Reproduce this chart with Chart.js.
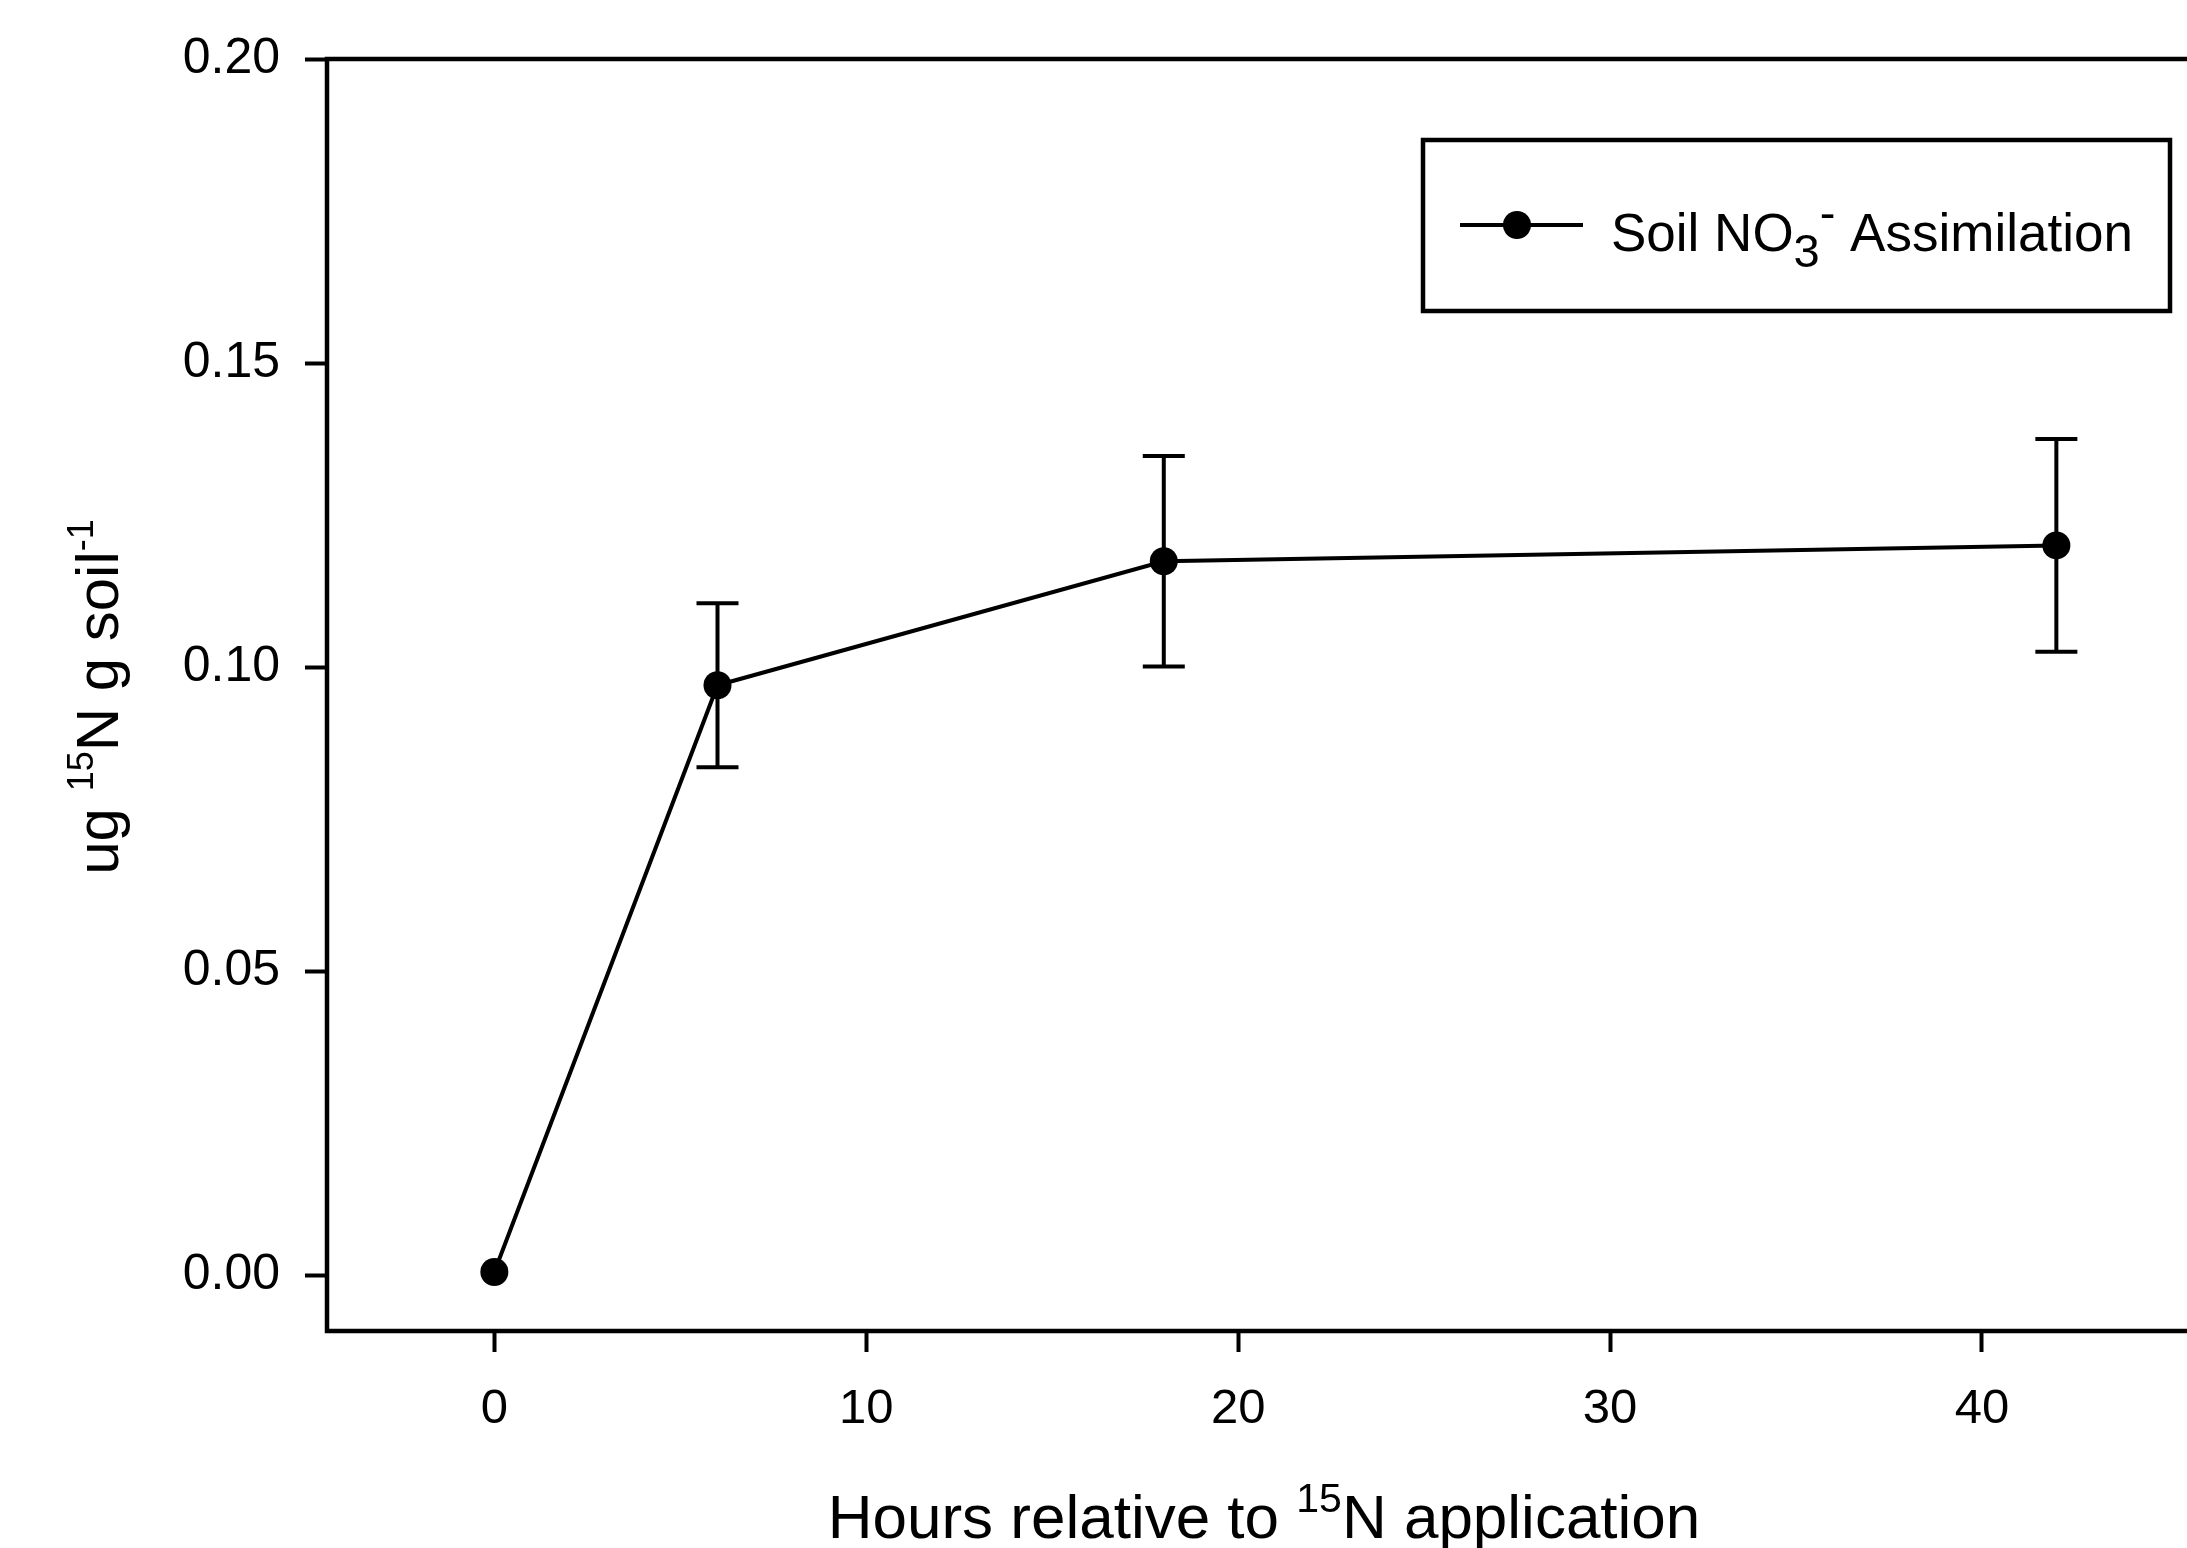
<!DOCTYPE html>
<html>
<head>
<meta charset="utf-8">
<script src="https://cdn.jsdelivr.net/npm/chart.js@4.4.1/dist/chart.umd.min.js"></script>
<style>
  html, body { margin: 0; padding: 0; background: #fff; overflow: hidden; }
  #wrap { width: 2240px; height: 1548px; }
</style>
</head>
<body>
<div id="wrap"><canvas id="nChart" width="2240" height="1548"></canvas></div>
<script>
// values
const hours = [0, 6, 18, 42];
const assimilation = [0.0005, 0.097, 0.1174, 0.1200];
const stdErr = [0, 0.0135, 0.0173, 0.0175];
const xTicks = [0, 10, 20, 30, 40];
const yTicks = [0.00, 0.05, 0.10, 0.15, 0.20];

const FONT = "'Liberation Sans', Arial, sans-serif";

// draw a run of text pieces, some raised or lowered
function richText(ctx, parts, x, y, size, align, small) {
  small = small || 0.62;
  const fontOf = (p) => (p.sup || p.sub ? Math.round(size * small) : size) + "px " + FONT;
  const widths = parts.map((p) => {
    ctx.font = fontOf(p);
    return ctx.measureText(p.t).width;
  });
  const total = widths.reduce((a, b) => a + b, 0);
  let cx = align === "center" ? x - total / 2 : x;
  ctx.textAlign = "left";
  ctx.textBaseline = "alphabetic";
  parts.forEach((p, i) => {
    ctx.font = fontOf(p);
    let dy = 0;
    if (p.sup) dy = -size * 0.42;
    if (p.sub) dy = size * 0.3;
    ctx.fillText(p.t, cx, y + dy);
    cx += widths[i];
  });
}

const sigmaPlot = {
  id: "sigmaPlot",
  beforeDatasetsDraw(chart) {
    const { ctx, scales: { x, y } } = chart;
    ctx.save();
    ctx.strokeStyle = "#000";
    ctx.lineWidth = 4;
    hours.forEach((h, i) => {
      if (!stdErr[i]) return;
      const px = x.getPixelForValue(h);
      const top = y.getPixelForValue(assimilation[i] + stdErr[i]);
      const bot = y.getPixelForValue(assimilation[i] - stdErr[i]);
      ctx.beginPath();
      ctx.moveTo(px, top); ctx.lineTo(px, bot);
      ctx.moveTo(px - 21, top); ctx.lineTo(px + 21, top);
      ctx.moveTo(px - 21, bot); ctx.lineTo(px + 21, bot);
      ctx.stroke();
    });
    ctx.restore();
  },
  afterDraw(chart) {
    const { ctx, chartArea: a } = chart;
    ctx.save();
    ctx.strokeStyle = "#000";
    ctx.fillStyle = "#000";
    ctx.lineWidth = 4.5;
    ctx.strokeRect(a.left, a.top, a.right - a.left, a.bottom - a.top);

    // legend box
    const lx = a.left + 1096, ly = a.top + 81;
    ctx.strokeRect(lx, ly, 747, 171);
    ctx.lineWidth = 4;
    ctx.beginPath();
    ctx.moveTo(lx + 37, ly + 85); ctx.lineTo(lx + 160, ly + 85);
    ctx.stroke();
    ctx.beginPath();
    ctx.arc(lx + 94, ly + 85, 14, 0, Math.PI * 2);
    ctx.fill();
    richText(ctx, [
      { t: "Soil NO" }, { t: "3", sub: true }, { t: "-", sup: true }, { t: " Assimilation" }
    ], lx + 188, ly + 111, 53, "left", 0.88);

    // axis titles
    richText(ctx, [
      { t: "Hours relative to " }, { t: "15", sup: true }, { t: "N application" }
    ], 1264, 1538, 62, "center", 0.66);

    ctx.translate(118, 697);
    ctx.rotate(-Math.PI / 2);
    richText(ctx, [
      { t: "ug " }, { t: "15", sup: true }, { t: "N g soil" }, { t: "-1", sup: true }
    ], 0, 0, 60, "center", 0.6);
    ctx.restore();
  }
};

new Chart(document.getElementById("nChart"), {
  type: "scatter",
  data: {
    datasets: [{
      label: "Soil NO3- Assimilation",
      data: hours.map((h, i) => ({ x: h, y: assimilation[i] })),
      showLine: true,
      tension: 0,
      borderColor: "#000",
      borderWidth: 4,
      pointRadius: 14,
      pointBackgroundColor: "#000",
      pointBorderWidth: 0,
    }],
  },
  options: {
    responsive: false,
    animation: false,
    layout: { padding: { top: 59, right: 20, left: 0, bottom: 0 } },
    plugins: {
      legend: { display: false },
      tooltip: { enabled: false },
    },
    scales: {
      x: {
        type: "linear",
        min: -4.5,
        max: 46.4,
        afterFit: (s) => { s.height = 217; },
        afterBuildTicks: (s) => { s.ticks = xTicks.map((v) => ({ value: v })); },
        border: { display: false },
        grid: { drawOnChartArea: false, drawTicks: true, tickLength: 21, tickWidth: 4, tickColor: "#000" },
        ticks: { color: "#000", padding: 28, font: { family: FONT, size: 49 }, callback: (v) => v },
      },
      y: {
        type: "linear",
        min: -0.0092,
        max: 0.2,
        afterFit: (s) => { s.width = 327; },
        afterBuildTicks: (s) => { s.ticks = yTicks.map((v) => ({ value: v })); },
        border: { display: false },
        grid: { drawOnChartArea: false, drawTicks: true, tickLength: 22, tickWidth: 4, tickColor: "#000" },
        ticks: { color: "#000", padding: 25, font: { family: FONT, size: 50 }, callback: (v) => v.toFixed(2) },
      },
    },
  },
  plugins: [sigmaPlot],
});
</script>
</body>
</html>
